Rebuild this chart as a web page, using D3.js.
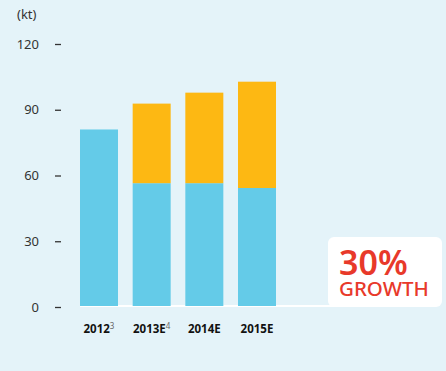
<!DOCTYPE html>
<meta charset="utf-8">
<script src="https://d3js.org/d3.v7.min.js"></script>
<style>
  body { margin: 0; background: #e4f3f9; }
  svg { display: block; font-family: "Noto Sans", "Open Sans", sans-serif; }
</style>
<body>
<svg id="chart" width="446" height="371"></svg>
<script>
// data (kt)
var years = ["2012", "2013E", "2014E", "2015E"];
var notes = ["3", "4", "", ""];
var baseVals = [81, 56.5, 56.5, 54.3];
var growthVals = [0, 36.3, 41.3, 48.5];
var yTicks = [0, 30, 60, 90, 120];

var svg = d3.select("#chart");

var x = d3.scalePoint().domain(years).range([99, 257]);
var barW = 38;

var y = d3.scaleLinear().domain([0, 120]).range([307, 44]);

// y axis: short ticks, no domain line
var yAxis = svg.append("g")
  .attr("transform", "translate(61,0)")
  .call(d3.axisLeft(y).tickValues(yTicks).tickSize(6).tickPadding(16));
yAxis.select(".domain").remove();
yAxis.selectAll("line").attr("stroke", "#333").attr("stroke-width", 1.3);
yAxis.selectAll("text").attr("fill", "#333").style("font-size", "13px")
  .style("font-family", "'Noto Sans', sans-serif");

svg.append("text")
  .attr("x", 17).attr("y", 19)
  .attr("fill", "#333").style("font-size", "13px")
  .text("(kt)");

// white baseline leading to the callout
svg.append("rect")
  .attr("x", 80).attr("y", y(0) - 2)
  .attr("width", 260).attr("height", 2)
  .attr("fill", "#ffffff");

// callout box
svg.append("rect")
  .attr("x", 328).attr("y", 237)
  .attr("width", 114).attr("height", 70)
  .attr("rx", 6)
  .attr("fill", "#ffffff");

var bars = svg.append("g");
bars.selectAll("rect.base")
  .data(years)
  .join("rect")
  .attr("class", "base")
  .attr("x", function(d) { return x(d) - barW / 2; })
  .attr("width", barW)
  .attr("y", function(d, i) { return y(baseVals[i]); })
  .attr("height", function(d, i) { return y(0) - 1 - y(baseVals[i]); })
  .attr("fill", "#64cbe8");

bars.selectAll("rect.growth")
  .data(years.filter(function(d, i) { return growthVals[i] > 0; }))
  .join("rect")
  .attr("class", "growth")
  .attr("x", function(d) { return x(d) - barW / 2; })
  .attr("width", barW)
  .attr("y", function(d) { var i = years.indexOf(d); return y(baseVals[i] + growthVals[i]); })
  .attr("height", function(d) { var i = years.indexOf(d); return y(baseVals[i]) - y(baseVals[i] + growthVals[i]); })
  .attr("fill", "#fdb813");

// category labels
var lab = svg.append("g").selectAll("text")
  .data(years)
  .join("text")
  .attr("x", function(d) { return x(d); })
  .attr("y", 333)
  .attr("text-anchor", "middle")
  .attr("fill", "#111")
  .style("font-size", "11.5px")
  .style("font-weight", "bold");
lab.append("tspan").text(function(d) { return d; });
lab.append("tspan")
  .attr("dy", -4)
  .attr("fill", "#666")
  .style("font-size", "8px")
  .style("font-weight", "normal")
  .text(function(d, i) { return notes[i]; });

// callout text
svg.append("text")
  .attr("x", 339).attr("y", 275)
  .attr("fill", "#e8392a")
  .style("font-size", "34px")
  .style("font-weight", "600")
  .text("30%");
svg.append("text")
  .attr("x", 339).attr("y", 296)
  .attr("fill", "#e8392a")
  .style("font-size", "20.5px")
  .style("font-weight", "500")
  .text("GROWTH");
</script>
</body>
